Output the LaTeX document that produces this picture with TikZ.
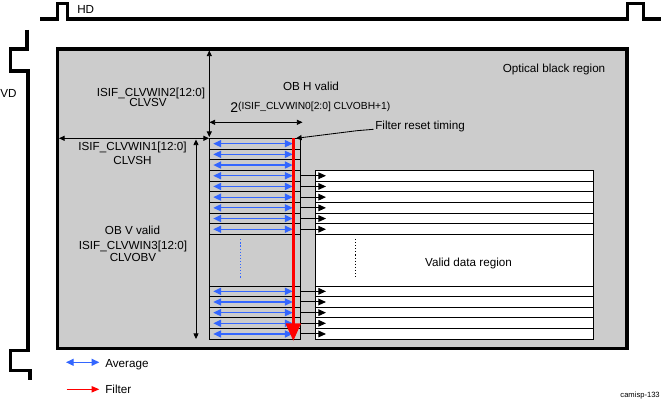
\documentclass[tikz,border=0pt]{standalone}
\usepackage{fontspec}
\setmainfont{Liberation Sans}
\usetikzlibrary{arrows.meta}
\definecolor{obgray}{RGB}{204,204,204}
\definecolor{avgblue}{RGB}{51,102,255}
\definecolor{filtred}{RGB}{255,0,0}
\tikzset{
  wave/.style={line width=2.3pt},
  rowline/.style={line width=0.7pt},
  dimarrow/.style={line width=0.6pt, {Triangle[length=4pt,width=3.6pt]}-{Triangle[length=4pt,width=3.6pt]}},
  avgarrow/.style={avgblue, line width=0.9pt, {Triangle[length=5.5pt,width=5pt]}-{Triangle[length=5.5pt,width=5pt]}},
  outarrow/.style={line width=0.7pt, -{Triangle[length=5.5pt,width=4.8pt]}},
  lbl/.style={inner sep=0pt},
}
\begin{document}
\begin{tikzpicture}[x=0.025cm,y=-0.025cm]
\useasboundingbox (0,0) rectangle (665,400);
{\fontsize{8.3}{10}\selectfont

% Drawing HD waveform
\draw [wave] (40,19) -- (57.5,19) -- (57.5,3.5) -- (67.5,3.5) -- (67.5,19) -- (627.5,19) -- (627.5,3.5) -- (643.5,3.5) -- (643.5,19) -- (661,19);%
\node [lbl, anchor=base west] (hd) at (77,14) {HD};%

% Drawing VD waveform
\draw [wave] (27,30) -- (27,49) -- (10.5,49) -- (10.5,71) -- (28,71) -- (28,350.5) -- (10.5,350.5) -- (10.5,370.5) -- (30,370.5) -- (30,380);%
\node [lbl, anchor=base west] (vd) at (0,98) {VD};%

% Drawing optical black region
\draw [wave, fill=obgray] (57.7,49) rectangle (627,348.3);%
\node [lbl, anchor=base] (optblack) at (554,73) {Optical black region};%

% Drawing OB rows
\draw [rowline] (209.3,138.3) rectangle (300,339.3);%
\foreach \k in {1,...,9}
  \draw [rowline] (209.3,{138.3+10.7*\k}) -- (300,{138.3+10.7*\k});%
\foreach \k in {0,...,4}
  \draw [rowline] (209.3,{286+10.66*\k}) -- (300,{286+10.66*\k});%
\draw [avgblue, line width=0.7pt, dash pattern=on 0.8pt off 1.4pt] (240.3,239.3) -- (240.3,277.7);%

% Drawing valid data region
\draw [rowline, fill=white] (315.3,170.4) rectangle (593.3,339.3);%
\foreach \k in {4,...,9}
  \draw [rowline] (315.3,{138.3+10.7*\k}) -- (593.3,{138.3+10.7*\k});%
\foreach \k in {0,...,4}
  \draw [rowline] (315.3,{286+10.66*\k}) -- (593.3,{286+10.66*\k});%
\draw [line width=0.7pt, dash pattern=on 0.8pt off 1.4pt] (355.3,239) -- (355.3,277.3);%
\node [lbl, anchor=base] (validdata) at (468.5,266) {Valid data region};%

% Drawing average and output arrows
\foreach \k in {0,...,8}
  \draw [avgarrow] (213.3,{143.65+10.7*\k}) -- (292.7,{143.65+10.7*\k});%
\foreach \k in {0,...,4}
  \draw [avgarrow] (213.3,{291.33+10.66*\k}) -- (292.7,{291.33+10.66*\k});%
\foreach \k in {3,...,8}
  \draw [outarrow] (300,{143.65+10.7*\k}) -- (326,{143.65+10.7*\k});%
\foreach \k in {0,...,4}
  \draw [outarrow] (300,{291.33+10.66*\k}) -- (326,{291.33+10.66*\k});%

% Drawing filter line
\draw [filtred, line width=2.3pt, -{Triangle[length=12.5pt,width=10.4pt]}] (293.3,138.3) -- (293.3,341);%

% Drawing CLVSV
\draw [dimarrow] (209.3,50.5) -- (209.3,137);%
\node [lbl, anchor=base] (clvsvreg) at (151,97) {ISIF\_CLVWIN2[12:0]};%
\node [lbl, anchor=base] (clvsv) at (148,107) {CLVSV};%

% Drawing CLVSH
\draw [dimarrow] (59,138.3) -- (209,138.3);%
\node [lbl, anchor=base] (clvshreg) at (132.5,151) {ISIF\_CLVWIN1[12:0]};%
\node [lbl, anchor=base] (clvsh) at (132.5,165) {CLVSH};%

% Drawing CLVOBV
\draw [dimarrow] (196,139.5) -- (196,339);%
\node [lbl, anchor=base] (obv) at (132.5,235) {OB V valid};%
\node [lbl, anchor=base] (clvobvreg) at (133,249) {ISIF\_CLVWIN3[12:0]};%
\node [lbl, anchor=base] (clvobv) at (133,262) {CLVOBV};%

% Drawing OB H valid
\draw [dimarrow] (209.5,122.3) -- (302.5,122.3);%
\node [lbl, anchor=base] (obh) at (311,91) {OB H valid};%
\node [lbl, anchor=base west] (obhexp) at (230,113) {{\fontsize{10}{12}\selectfont 2}\raisebox{2.5pt}{\fontsize{7.3}{8}\selectfont (ISIF\_CLVWIN0[2:0] CLVOBH+1)}};%

% Drawing filter reset timing
\node [lbl, anchor=base west] (freset) at (375,129.3) {Filter reset timing};%
\coordinate (fresetend) at (296,138.3);%
\draw [line width=0.6pt, -{Triangle[length=4pt,width=3.6pt]}] (freset.base west) ++(-1.5,0) -- (357,130.7) -- (fresetend);%

% Drawing legend
\draw [avgarrow] (66,362.3) -- (99.3,362.3);%
\node [lbl, anchor=base west] (average) at (105,367) {Average};%
\draw [filtred, line width=0.7pt, -{Triangle[length=5.5pt,width=4.5pt]}] (66.7,389.3) -- (99.3,389.3);%
\node [lbl, anchor=base west] (filter) at (105,393) {Filter};%
\node [lbl, anchor=base east, font=\fontsize{5.4}{6}\selectfont] (figid) at (660,397) {camisp-133};%
}
\end{tikzpicture}
\end{document}
